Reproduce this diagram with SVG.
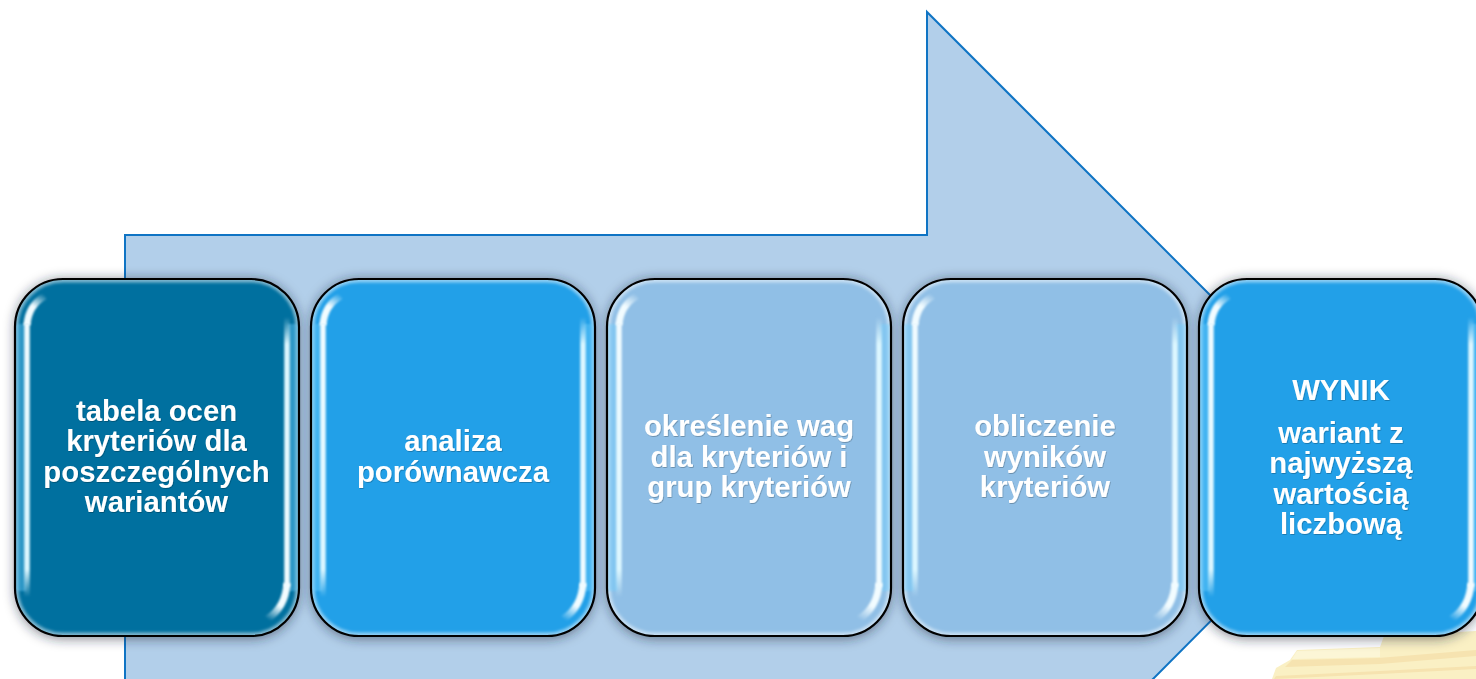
<svg xmlns="http://www.w3.org/2000/svg" width="1476" height="679" viewBox="0 0 1476 679">
<style>
.arrow{fill:#b2cfea;stroke:#0f74c4;stroke-width:2}
.label{font-family:"Liberation Sans",Arial,sans-serif;font-weight:700;font-size:29.3px;fill:#fff;text-anchor:middle;filter:url(#ts)}
.outline{fill:none;stroke:#000;stroke-width:2.2}
.edge{fill:none;stroke:#fff;stroke-opacity:.5;stroke-width:5;filter:url(#b2)}
.band{fill:none;stroke:#6fd0ff;stroke-opacity:.4;stroke-width:10;filter:url(#b3)}
.hl{fill:none;stroke-width:5.5;filter:url(#b3)}
.hla{fill:none;stroke-width:7;filter:url(#b3)}
.dark{fill:#00709f}.mid{fill:#22a0e8}.light{fill:#90bfe6}
.pile1{fill:#fcf6d6}.pile2{fill:#f6e3b0}.pile3{fill:#faf0c4}
</style>
<defs>
<filter id="sh" x="-15%" y="-15%" width="130%" height="130%"><feGaussianBlur stdDeviation="6"/></filter>
<filter id="b2" x="-10%" y="-10%" width="120%" height="120%"><feGaussianBlur stdDeviation="1.6"/></filter>
<filter id="b3" filterUnits="userSpaceOnUse" x="-20" y="-20" width="324" height="397"><feGaussianBlur stdDeviation="1"/></filter>
<filter id="ts" x="-10%" y="-20%" width="120%" height="140%"><feDropShadow dx="0.6" dy="0.8" stdDeviation="0.7" flood-color="#000" flood-opacity=".3"/></filter>
<linearGradient id="hll" gradientUnits="userSpaceOnUse" x1="0" y1="40" x2="0" y2="318">
<stop offset="0" stop-color="#f2fcff"/><stop offset=".9" stop-color="#dcf7ff"/><stop offset="1" stop-color="#dcf7ff" stop-opacity="0"/>
</linearGradient>
<linearGradient id="hlr" gradientUnits="userSpaceOnUse" x1="0" y1="38" x2="0" y2="310">
<stop offset="0" stop-color="#dcf7ff" stop-opacity="0"/><stop offset=".1" stop-color="#dcf7ff"/><stop offset="1" stop-color="#f2fcff"/>
</linearGradient>
<linearGradient id="hla" gradientUnits="userSpaceOnUse" x1="12" y1="46" x2="30" y2="16">
<stop offset="0" stop-color="#f2fcff"/><stop offset=".55" stop-color="#f2fcff"/><stop offset="1" stop-color="#f2fcff" stop-opacity="0"/>
</linearGradient>
<linearGradient id="hlb" gradientUnits="userSpaceOnUse" x1="272" y1="306" x2="252" y2="340">
<stop offset="0" stop-color="#f2fcff"/><stop offset=".55" stop-color="#f2fcff"/><stop offset="1" stop-color="#f2fcff" stop-opacity="0"/>
</linearGradient>
<clipPath id="cb"><rect width="284" height="357" rx="48"/></clipPath>
<rect id="r" width="284" height="357" rx="48"/>
<g id="shadow"><rect x="0" y="0" width="284" height="360" rx="48" fill="#1e2a3a" fill-opacity=".55" filter="url(#sh)"/></g>
<g id="gloss">
<g clip-path="url(#cb)"><rect class="edge" x="1" y="1" width="282" height="355" rx="47"/>
<path class="band" d="M6 45V312M278 45V312"/></g>
<path class="hl" stroke="url(#hll)" d="M12 44V318"/>
<path class="hl" stroke="url(#hlr)" d="M272 38V308"/>
<path class="hla" stroke="url(#hla)" d="M12 46C13 33 19 23 30 17"/>
<path class="hla" stroke="url(#hlb)" d="M272 304C271 320 265 332 252 340"/>
<rect class="outline" width="284" height="357" rx="48"/>
</g>
</defs>
<g id="background-arrow"><path class="arrow" d="M125 680V235H927V12L1373 458L1152 680"/></g>
<g id="paper-pile">
<path class="pile3" d="M1272 679L1276 668L1290 660L1297 650L1380 647L1384 636L1476 631V679Z"/>
<path class="pile2" d="M1292 660L1378 658L1476 650V656L1380 664L1285 667Z"/>
<path class="pile2" d="M1276 676L1380 671L1476 666V669L1380 674L1274 679Z"/>
<path class="pile1" d="M1297 651L1380 648V657L1292 659Z"/>
</g>
<g id="connectors"/>
<g id="node-tabela" transform="translate(15 279)">
<use href="#shadow"/><use href="#r" class="dark"/><use href="#gloss"/>
<text class="label" x="141.500" y="142">tabela ocen</text>
<text class="label" x="141.500" y="172">kryteriów dla</text>
<text class="label" x="141.500" y="203">poszczególnych</text>
<text class="label" x="141.500" y="233">wariantów</text>
</g>
<g id="node-analiza" transform="translate(311 279)">
<use href="#shadow"/><use href="#r" class="mid"/><use href="#gloss"/>
<text class="label" x="142" y="172">analiza</text>
<text class="label" x="142" y="203">porównawcza</text>
</g>
<g id="node-wagi" transform="translate(607 279)">
<use href="#shadow"/><use href="#r" class="light"/><use href="#gloss"/>
<text class="label" x="142" y="157">określenie wag</text>
<text class="label" x="142" y="188">dla kryteriów i</text>
<text class="label" x="142" y="218">grup kryteriów</text>
</g>
<g id="node-obliczenie" transform="translate(903 279)">
<use href="#shadow"/><use href="#r" class="light"/><use href="#gloss"/>
<text class="label" x="142" y="157">obliczenie</text>
<text class="label" x="142" y="188">wyników</text>
<text class="label" x="142" y="218">kryteriów</text>
</g>
<g id="node-wynik" transform="translate(1199 279)">
<use href="#shadow"/><use href="#r" class="mid"/><use href="#gloss"/>
<text class="label" x="142" y="121">WYNIK</text>
<text class="label" x="142" y="164">wariant z</text>
<text class="label" x="142" y="194">najwyższą</text>
<text class="label" x="142" y="225">wartością</text>
<text class="label" x="142" y="255">liczbową</text>
</g>
</svg>
